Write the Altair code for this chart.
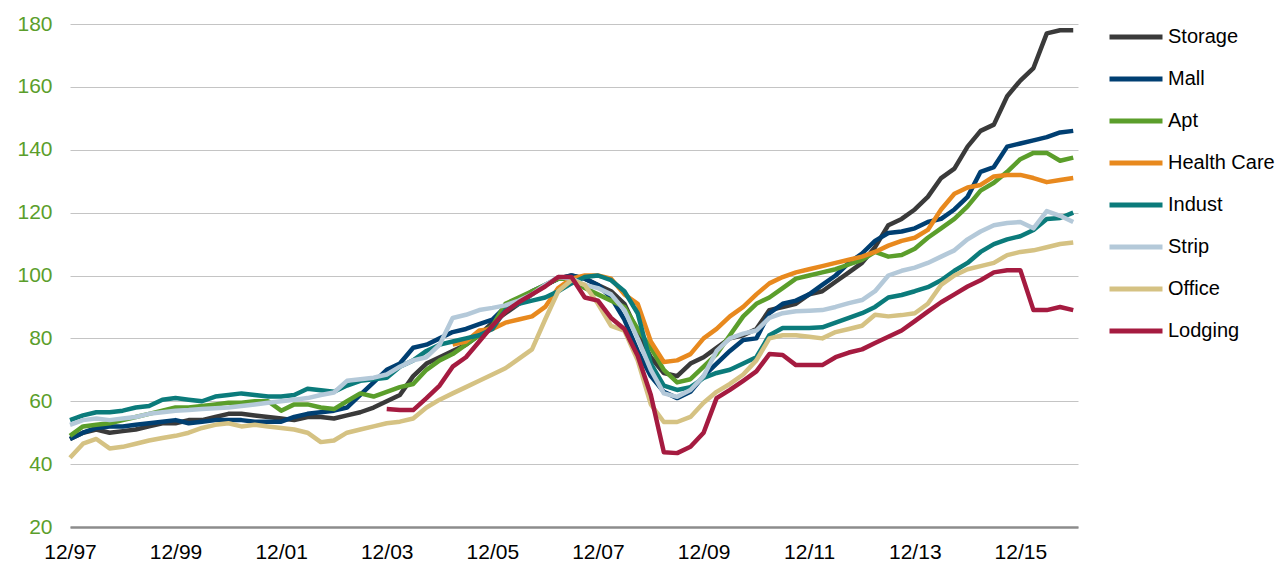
import altair as alt
import pandas as pd

series_names = ["Storage", "Mall", "Apt", "Health Care", "Indust", "Strip", "Office", "Lodging"]
series_colors = ["#3a3a3a", "#003f72", "#5b9e2b", "#e8891e", "#0b7b7b", "#b4c9d9", "#d5c283", "#a51b40"]

# quarterly observations, Dec 1997 .. Dec 2016
quarter_dates = pd.date_range("1997-12-01", periods=77, freq="3MS").strftime("%Y-%m-%d").tolist()

storage = [48, 50, 51, 50, 50.5, 51, 52, 53, 53, 54,
           54, 55, 56, 56, 55.5, 55, 54.5, 54, 55, 55,
           54.5, 55.5, 56.5, 58, 60, 62, 68, 72, 74, 76,
           78, 81, 85, 88, 91, 94, 97, 99, 100, 99,
           97, 95, 91, 82, 74, 69, 68, 72, 74, 77,
           80, 81, 83, 89, 90, 91, 94, 95, 98, 101,
           104, 109, 116, 118, 121, 125, 131, 134, 141, 146,
           148, 157, 162, 166, 177, 178, 178]

mall = [48, 50, 51.5, 52, 52, 52.5, 53, 53.5, 54, 53,
        53.5, 54, 54, 54, 53.5, 53.5, 53.5, 55, 56, 56.5,
        57, 58, 62, 66, 70, 72, 77, 78, 80, 82,
        83, 84.5, 86, 90, 92, 95, 97, 99, 100, 99,
        97, 93, 86, 76, 68, 63, 61, 63, 68, 72,
        76, 79.5, 80, 88, 91, 92, 94, 97, 100, 104,
        107, 111, 113.5, 114, 115, 117, 118, 121, 125, 133,
        134.5, 141, 142, 143, 144, 145.5, 146]

apt = [49, 52, 52.5, 53, 54, 55, 56, 57, 58, 58,
       58.5, 59, 59.5, 59.5, 60, 60, 57, 59, 59, 58,
       57.5, 60, 62.5, 61.5, 63, 64.5, 65.5, 70, 73, 75,
       78, 81, 84, 91, 93, 95, 97, 99, 99, 96,
       94, 92, 90, 83, 77, 70, 66, 67, 71, 75,
       81, 87, 91, 93, 96, 99, 100, 101, 102, 103.5,
       105, 107.5, 106, 106.5, 108.5, 112, 115, 118, 122, 127,
       129.5, 133, 137, 139, 139, 136.5, 137.5]

health_care = [None] * 29 + [
    78, 79, 82.5, 83, 85, 86, 87, 90, 96, 99,
    100, 100, 99, 94, 91, 79, 72.5, 73, 75, 80,
    83, 87, 90, 94, 97.5, 99.5, 101, 102, 103, 104,
    105, 106, 107.5, 109.5, 111, 112, 114.5, 121, 126, 128,
    128.8, 131.5, 132, 132, 131, 129.7, 130.4, 131]

indust = [54, 55.5, 56.5, 56.5, 57, 58, 58.5, 60.5, 61, 60.5,
          60, 61.5, 62, 62.5, 62, 61.5, 61.5, 62, 64, 63.5,
          63, 65, 66.5, 67, 67.5, 71, 73, 76, 78, 79,
          80, 81, 83, 89, 91, 92, 93, 95, 97.5, 99.5,
          100, 98.5, 95, 88, 72, 65, 63.6, 64.5, 67.4, 69,
          70, 72, 74, 81, 83.3, 83.3, 83.3, 83.5, 85, 86.5,
          88, 90, 93, 93.8, 95, 96.3, 98.5, 101.5, 104, 107.5,
          110, 111.5, 112.5, 114.5, 118, 118.3, 120]

strip = [52.5, 54, 54.5, 54, 54.5, 55, 56, 56.5, 57, 57.2,
         57.5, 57.8, 58, 58.5, 59, 59.5, 60, 60.5, 61, 62,
         62.8, 66.5, 67, 67.5, 68.5, 71, 73, 74, 78, 86.5,
         87.5, 89, 89.7, 90.5, 92, 94, 97, 99.5, 99, 97,
         96, 94, 89, 80, 70, 62.5, 61.4, 63.6, 68, 76,
         80, 81.5, 82.5, 86.5, 88, 88.6, 88.8, 89, 90, 91.2,
         92.2, 95, 100, 101.5, 102.5, 104, 106, 108, 111.5, 114,
         116, 116.7, 117, 115, 120.5, 119, 117]

office = [42, 46.5, 48, 45, 45.5, 46.5, 47.5, 48.3, 49, 50,
          51.5, 52.5, 53, 52, 52.5, 52, 51.5, 51, 50, 47,
          47.5, 50, 51, 52, 53, 53.5, 54.5, 58, 60.5, 62.5,
          64.5, 66.5, 68.5, 70.5, 73.5, 76.5, 86, 95, 98.5, 97,
          91, 84, 82.5, 73, 59, 53.4, 53.4, 55, 59.5, 63,
          65.5, 68.5, 73, 80, 81, 81, 80.5, 80, 82, 83,
          84, 87.5, 87, 87.4, 88, 91, 97, 100, 102, 103,
          104, 106.5, 107.5, 108, 109, 110, 110.5]

lodging = [None] * 24 + [
    57.5, 57.2, 57.2, 61, 65, 71,
    74, 79, 84, 88.5, 91.5, 94, 96.5, 99.5, 99.5, 93,
    92, 86.5, 83, 74.5, 62, 43.8, 43.5, 45.5, 50, 61,
    63.6, 66.5, 69.5, 75, 74.7, 71.5, 71.5, 71.5, 74, 75.5,
    76.5, 78.5, 80.5, 82.5, 85.5, 88.5, 91.5, 94, 96.5, 98.5,
    101, 101.7, 101.7, 89, 89, 90, 89]

y_ticks = [20, 40, 60, 80, 100, 120, 140, 160, 180]
x_tick_years = [1997, 1999, 2001, 2003, 2005, 2007, 2009, 2011, 2013, 2015]

all_values = [storage, mall, apt, health_care, indust, strip, office, lodging]
rows = []
for name, vals in zip(series_names, all_values):
    for d, v in zip(quarter_dates, vals):
        if v is not None:
            rows.append({"date": d, "series": name, "value": v})
df = pd.DataFrame(rows)

FONT = "Liberation Sans, Arial, sans-serif"

x_enc = alt.X(
    "date:T",
    scale=alt.Scale(type="utc",
                    domain=[alt.DateTime(year=1997, month=12, date=1, utc=True),
                            alt.DateTime(year=2017, month=1, date=3, utc=True)]),
    axis=alt.Axis(
        title=None,
        values=[alt.DateTime(year=y, month=12, date=1, utc=True) for y in x_tick_years],
        labelExpr="utcFormat(datum.value, '%m/%y')",
        labelFont=FONT, labelFontSize=21, labelColor="#000000",
        labelPadding=14, ticks=False, tickSize=0, grid=False,
        domain=True, domainColor="#8c8c8c", domainWidth=2.5,
        labelFlush=False, labelOverlap=False,
    ),
)
y_enc = alt.Y(
    "value:Q",
    scale=alt.Scale(domain=[20, 180], nice=False, zero=False),
    axis=alt.Axis(
        title=None, values=y_ticks,
        labelFont=FONT, labelFontSize=21, labelColor="#5b9e2b",
        labelPadding=18, ticks=False, tickSize=0, domain=False,
        grid=True, gridColor="#c4c4c4", gridWidth=1,
    ),
)
color_enc = alt.Color(
    "series:N",
    scale=alt.Scale(domain=series_names, range=series_colors),
    legend=alt.Legend(
        title=None, orient="none", direction="vertical",
        legendX=1037, legendY=2.5, padding=0,
        symbolType="stroke", symbolSize=2809, symbolStrokeWidth=5,
        clipHeight=21, rowPadding=21,
        labelFont=FONT, labelFontSize=20, labelColor="#000000",
        labelOffset=3, labelLimit=300, symbolOffset=0,
    ),
)

layers = []
for name in series_names:
    layers.append(
        alt.Chart(df)
        .transform_filter(alt.datum.series == name)
        .mark_line(strokeWidth=4.5, strokeJoin="round")
        .encode(x=x_enc, y=y_enc, color=color_enc)
    )

chart = (
    alt.layer(*layers)
    .properties(
        width=1008, height=503,
        autosize=alt.AutoSizeParams(type="none"),
        padding={"left": 62, "top": 16, "right": 199, "bottom": 34},
        background="white",
    )
    .configure_view(stroke=None)
)

chart.save("out.html", embed_options={"renderer": "svg", "actions": False})
